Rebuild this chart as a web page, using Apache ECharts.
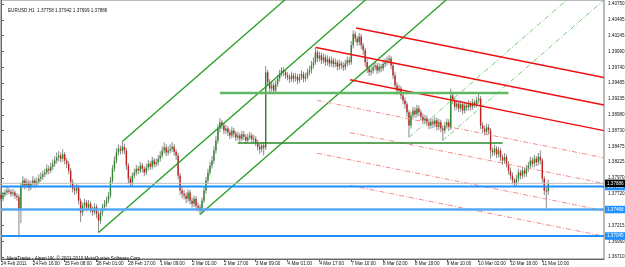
<!DOCTYPE html>
<html><head><meta charset="utf-8">
<script src="https://cdn.jsdelivr.net/npm/echarts@6/dist/echarts.min.js"></script>
<style>html,body{margin:0;padding:0;background:#fff}#c{width:625px;height:267px}</style>
</head><body><div id="c"></div>
<script>
const symbolName = 'EURUSD,H1';
const lastQuote = ['1.37758', '1.37942', '1.37699', '1.37886'];
const copyrightText = 'MetaTrader - Alpari UK, \u00a9 2001-2010 MetaQuotes Software Corp.';
const timeLabels = ['24 Feb 2011','24 Feb 16:00','25 Feb 08:00','28 Feb 01:00','28 Feb 17:00','1 Mar 09:00','2 Mar 01:00','2 Mar 17:00','3 Mar 09:00','4 Mar 01:00','4 Mar 17:00','7 Mar 10:00','8 Mar 02:00','8 Mar 18:00','9 Mar 10:00','10 Mar 02:00','10 Mar 18:00','11 Mar 10:00'];
const barsPerLabel = 16;
const slotCount = 304;
const priceTicks = [1.40750,1.40495,1.40245,1.39990,1.39740,1.39485,1.39235,1.38980,1.38730,1.38475,1.38225,1.37970,1.37720,1.37465,1.37215,1.36960,1.36710];
const priceMin = 1.36678, priceMax = 1.40814;

const opens = [
1.3770,1.3764,1.3771,1.3774,1.3777,1.3775,1.3772,1.3774,1.3769,1.3767,
1.3748,1.3785,1.3793,1.3785,1.3790,1.3782,1.3788,1.3793,1.3787,1.3791,
1.3796,1.3799,1.3803,1.3806,1.3812,1.3809,1.3815,1.3820,1.3825,1.3830,
1.3833,1.3828,1.3835,1.3825,1.3820,1.3809,1.3790,1.3780,1.3777,1.3782,
1.3761,1.3742,1.3753,1.3758,1.3750,1.3756,1.3747,1.3743,1.3751,1.3740,
1.3729,1.3742,1.3751,1.3756,1.3761,1.3769,1.3793,1.3812,1.3825,1.3838,
1.3844,1.3841,1.3847,1.3841,1.3817,1.3796,1.3788,1.3801,1.3806,1.3812,
1.3809,1.3817,1.3812,1.3806,1.3814,1.3820,1.3815,1.3825,1.3819,1.3822,
1.3828,1.3833,1.3841,1.3846,1.3838,1.3841,1.3844,1.3847,1.3839,1.3833,
1.3801,1.3777,1.3772,1.3769,1.3764,1.3774,1.3761,1.3756,1.3764,1.3753,
1.3750,1.3745,1.3761,1.3777,1.3793,1.3806,1.3817,1.3825,1.3841,1.3857,
1.3876,1.3886,1.3881,1.3873,1.3876,1.3870,1.3865,1.3873,1.3868,1.3862,
1.3865,1.3860,1.3867,1.3863,1.3857,1.3862,1.3865,1.3859,1.3860,1.3854,
1.3847,1.3843,1.3849,1.3846,1.3966,1.3950,1.3940,1.3945,1.3937,1.3947,
1.3956,1.3964,1.3969,1.3966,1.3961,1.3958,1.3955,1.3961,1.3956,1.3959,
1.3953,1.3958,1.3963,1.3956,1.3959,1.3966,1.3969,1.3977,1.3982,1.3998,
1.3988,1.3993,1.3985,1.3990,1.3982,1.3987,1.3980,1.3985,1.3979,1.3982,
1.3975,1.3980,1.3977,1.3974,1.3980,1.3985,1.3982,1.4009,1.4027,1.4020,
1.4014,1.4023,1.4009,1.4001,1.3982,1.3972,1.3966,1.3969,1.3974,1.3977,
1.3969,1.3975,1.3972,1.3979,1.3982,1.3985,1.3988,1.3977,1.3961,1.3945,
1.3937,1.3940,1.3929,1.3921,1.3915,1.3902,1.3881,1.3897,1.3905,1.3899,
1.3908,1.3902,1.3895,1.3889,1.3892,1.3886,1.3881,1.3887,1.3883,1.3889,
1.3879,1.3886,1.3876,1.3873,1.3881,1.3886,1.3878,1.3929,1.3921,1.3911,
1.3916,1.3908,1.3915,1.3905,1.3913,1.3910,1.3916,1.3911,1.3918,1.3915,
1.3921,1.3924,1.3881,1.3876,1.3871,1.3878,1.3873,1.3841,1.3838,1.3844,
1.3835,1.3841,1.3830,1.3825,1.3831,1.3820,1.3809,1.3801,1.3793,1.3788,
1.3796,1.3806,1.3801,1.3809,1.3804,1.3812,1.3817,1.3825,1.3820,1.3828,
1.3822,1.3831,1.3825,1.3796,1.3777,1.37758];
const highs = [
1.3776,1.3775,1.3779,1.3783,1.3781,1.3779,1.3780,1.3777,1.3773,1.3771,
1.3790,1.3800,1.3797,1.3796,1.3794,1.3793,1.3800,1.3797,1.3798,1.3803,
1.3806,1.3809,1.3812,1.3819,1.3817,1.3822,1.3827,1.3832,1.3838,1.3840,
1.3838,1.3843,1.3839,1.3829,1.3824,1.3813,1.3795,1.3786,1.3788,1.3786,
1.3765,1.3758,1.3764,1.3762,1.3762,1.3760,1.3752,1.3757,1.3755,1.3744,
1.3747,1.3756,1.3762,1.3767,1.3775,1.3799,1.3818,1.3832,1.3845,1.3851,
1.3849,1.3855,1.3852,1.3845,1.3821,1.3800,1.3806,1.3812,1.3818,1.3816,
1.3823,1.3821,1.3816,1.3820,1.3826,1.3824,1.3831,1.3829,1.3828,1.3834,
1.3840,1.3848,1.3854,1.3851,1.3848,1.3851,1.3855,1.3851,1.3843,1.3837,
1.3805,1.3782,1.3778,1.3774,1.3779,1.3778,1.3766,1.3769,1.3768,1.3758,
1.3755,1.3766,1.3783,1.3799,1.3812,1.3823,1.3832,1.3848,1.3864,1.3883,
1.3893,1.3890,1.3885,1.3882,1.3880,1.3875,1.3879,1.3877,1.3872,1.3871,
1.3869,1.3873,1.3872,1.3867,1.3868,1.3871,1.3869,1.3866,1.3864,1.3858,
1.3852,1.3855,1.3854,1.3976,1.3970,1.3955,1.3951,1.3950,1.3953,1.3962,
1.3970,1.3974,1.3974,1.3970,1.3966,1.3963,1.3967,1.3965,1.3965,1.3963,
1.3964,1.3969,1.3967,1.3965,1.3972,1.3976,1.3984,1.3990,1.4006,1.4002,
1.3999,1.3997,1.3996,1.3994,1.3993,1.3991,1.3991,1.3989,1.3988,1.3986,
1.3986,1.3984,1.3982,1.3986,1.3991,1.3990,1.4016,1.4033,1.4031,1.4024,
1.4029,1.4027,1.4013,1.4005,1.3987,1.3977,1.3975,1.3980,1.3983,1.3981,
1.3981,1.3979,1.3985,1.3988,1.3991,1.3994,1.3992,1.3981,1.3966,1.3950,
1.3946,1.3944,1.3934,1.3926,1.3919,1.3906,1.3903,1.3911,1.3910,1.3914,
1.3913,1.3906,1.3900,1.3898,1.3897,1.3891,1.3893,1.3892,1.3895,1.3893,
1.3892,1.3890,1.3881,1.3887,1.3892,1.3891,1.3940,1.3934,1.3926,1.3922,
1.3921,1.3921,1.3919,1.3919,1.3918,1.3922,1.3920,1.3924,1.3922,1.3927,
1.3933,1.3928,1.3886,1.3881,1.3884,1.3883,1.3877,1.3846,1.3850,1.3848,
1.3847,1.3845,1.3835,1.3837,1.3835,1.3824,1.3814,1.3806,1.3797,1.3802,
1.3812,1.3810,1.3815,1.3813,1.3818,1.3823,1.3831,1.3830,1.3834,1.3832,
1.3837,1.3841,1.3829,1.3800,1.3784,1.37942];
const lows = [
1.3759,1.3760,1.3767,1.3770,1.3771,1.3767,1.3768,1.3764,1.3761,1.3702,
1.3725,1.3781,1.3779,1.3781,1.3776,1.3778,1.3784,1.3781,1.3783,1.3787,
1.3791,1.3794,1.3798,1.3802,1.3803,1.3805,1.3810,1.3815,1.3820,1.3824,
1.3822,1.3823,1.3819,1.3813,1.3803,1.3784,1.3774,1.3770,1.3772,1.3755,
1.3727,1.3737,1.3748,1.3744,1.3746,1.3742,1.3737,1.3739,1.3733,1.3710,
1.3724,1.3737,1.3747,1.3751,1.3757,1.3765,1.3788,1.3807,1.3820,1.3833,
1.3835,1.3836,1.3835,1.3810,1.3789,1.3783,1.3784,1.3796,1.3801,1.3803,
1.3805,1.3806,1.3800,1.3802,1.3809,1.3810,1.3811,1.3814,1.3815,1.3817,
1.3823,1.3829,1.3836,1.3832,1.3833,1.3836,1.3839,1.3833,1.3826,1.3795,
1.3770,1.3765,1.3763,1.3757,1.3759,1.3755,1.3750,1.3751,1.3747,1.3744,
1.3739,1.3741,1.3757,1.3772,1.3788,1.3801,1.3812,1.3820,1.3836,1.3852,
1.3870,1.3875,1.3867,1.3868,1.3864,1.3859,1.3861,1.3862,1.3856,1.3857,
1.3854,1.3856,1.3858,1.3851,1.3853,1.3858,1.3854,1.3853,1.3848,1.3841,
1.3836,1.3838,1.3833,1.3842,1.3944,1.3934,1.3935,1.3931,1.3933,1.3943,
1.3951,1.3959,1.3960,1.3955,1.3953,1.3949,1.3951,1.3950,1.3951,1.3947,
1.3949,1.3954,1.3950,1.3951,1.3955,1.3961,1.3964,1.3972,1.3978,1.3982,
1.3983,1.3979,1.3980,1.3976,1.3977,1.3974,1.3975,1.3973,1.3974,1.3969,
1.3970,1.3971,1.3968,1.3969,1.3975,1.3977,1.3978,1.4004,1.4014,1.4008,
1.4009,1.4003,1.3994,1.3975,1.3965,1.3960,1.3961,1.3964,1.3969,1.3963,
1.3965,1.3966,1.3968,1.3974,1.3977,1.3980,1.3971,1.3955,1.3939,1.3930,
1.3932,1.3923,1.3915,1.3908,1.3895,1.3862,1.3876,1.3892,1.3893,1.3894,
1.3896,1.3889,1.3883,1.3884,1.3880,1.3875,1.3876,1.3877,1.3878,1.3873,
1.3874,1.3870,1.3857,1.3868,1.3876,1.3872,1.3874,1.3915,1.3905,1.3906,
1.3902,1.3903,1.3899,1.3900,1.3904,1.3905,1.3905,1.3906,1.3909,1.3910,
1.3916,1.3875,1.3869,1.3865,1.3866,1.3867,1.3828,1.3832,1.3833,1.3829,
1.3830,1.3824,1.3818,1.3820,1.3814,1.3803,1.3795,1.3787,1.3783,1.3783,
1.3791,1.3795,1.3796,1.3798,1.3799,1.3807,1.3812,1.3814,1.3815,1.3816,
1.3817,1.3819,1.3790,1.3770,1.3747,1.37699];
const closes = [
1.3764,1.3771,1.3774,1.3777,1.3775,1.3772,1.3774,1.3769,1.3767,1.3748,
1.3785,1.3793,1.3785,1.3790,1.3782,1.3788,1.3793,1.3787,1.3791,1.3796,
1.3799,1.3803,1.3806,1.3812,1.3809,1.3815,1.3820,1.3825,1.3830,1.3833,
1.3828,1.3835,1.3825,1.3820,1.3809,1.3790,1.3780,1.3777,1.3782,1.3761,
1.3742,1.3753,1.3758,1.3750,1.3756,1.3747,1.3743,1.3751,1.3740,1.3729,
1.3742,1.3751,1.3756,1.3761,1.3769,1.3793,1.3812,1.3825,1.3838,1.3844,
1.3841,1.3847,1.3841,1.3817,1.3796,1.3788,1.3801,1.3806,1.3812,1.3809,
1.3817,1.3812,1.3806,1.3814,1.3820,1.3815,1.3825,1.3819,1.3822,1.3828,
1.3833,1.3841,1.3846,1.3838,1.3841,1.3844,1.3847,1.3839,1.3833,1.3801,
1.3777,1.3772,1.3769,1.3764,1.3774,1.3761,1.3756,1.3764,1.3753,1.3750,
1.3745,1.3761,1.3777,1.3793,1.3806,1.3817,1.3825,1.3841,1.3857,1.3876,
1.3886,1.3881,1.3873,1.3876,1.3870,1.3865,1.3873,1.3868,1.3862,1.3865,
1.3860,1.3867,1.3863,1.3857,1.3862,1.3865,1.3859,1.3860,1.3854,1.3847,
1.3843,1.3849,1.3846,1.3966,1.3950,1.3940,1.3945,1.3937,1.3947,1.3956,
1.3964,1.3969,1.3966,1.3961,1.3958,1.3955,1.3961,1.3956,1.3959,1.3953,
1.3958,1.3963,1.3956,1.3959,1.3966,1.3969,1.3977,1.3982,1.3998,1.3988,
1.3993,1.3985,1.3990,1.3982,1.3987,1.3980,1.3985,1.3979,1.3982,1.3975,
1.3980,1.3977,1.3974,1.3980,1.3985,1.3982,1.4009,1.4027,1.4020,1.4014,
1.4023,1.4009,1.4001,1.3982,1.3972,1.3966,1.3969,1.3974,1.3977,1.3969,
1.3975,1.3972,1.3979,1.3982,1.3985,1.3988,1.3977,1.3961,1.3945,1.3937,
1.3940,1.3929,1.3921,1.3915,1.3902,1.3881,1.3897,1.3905,1.3899,1.3908,
1.3902,1.3895,1.3889,1.3892,1.3886,1.3881,1.3887,1.3883,1.3889,1.3879,
1.3886,1.3876,1.3873,1.3881,1.3886,1.3878,1.3929,1.3921,1.3911,1.3916,
1.3908,1.3915,1.3905,1.3913,1.3910,1.3916,1.3911,1.3918,1.3915,1.3921,
1.3924,1.3881,1.3876,1.3871,1.3878,1.3873,1.3841,1.3838,1.3844,1.3835,
1.3841,1.3830,1.3825,1.3831,1.3820,1.3809,1.3801,1.3793,1.3788,1.3796,
1.3806,1.3801,1.3809,1.3804,1.3812,1.3817,1.3825,1.3820,1.3828,1.3822,
1.3831,1.3825,1.3796,1.3777,1.37758,1.37886];

// Andrews' pitchfork anchors (bar index, price)
const pitchforkAnchors = [[49, 1.3710], [61, 1.38555], [100, 1.3739]];
// dashed rays parallel to the pitchfork
const pitchforkDashAnchors = [[205, 1.3862], [222, 1.3857]];
// red channel: [startBar, startPrice, endBar, endPrice]
const redSolid = [[178.4, 1.40367, 303, 1.39575], [158.3, 1.40055, 303, 1.39136], [175.4, 1.39540, 303, 1.38728]];
const redDashed = [[158.8, 1.39211, 303, 1.38294], [175.4, 1.38696, 303, 1.37885], [158.8, 1.38367, 303, 1.37451], [175.4, 1.37853, 303, 1.37042]];
// horizontal green segments: [fromBar, toBar, price]
const greenLevelUpper = [110, 255, 1.3933];
const greenLevelLower = [119, 252, 1.3853];
const blueLevels = [1.37835, 1.37468, 1.37045];
const bidPrice = 1.37886;

const FONT = 'Liberation Sans';
const FS = 4.6;
const lastBar = slotCount - 1;

const candleData = opens.map((o, i) => [i, o, closes[i], lows[i], highs[i]]);
const cats = [];
for (let i = 0; i < slotCount; i++) cats.push(String(i));
const showTick = (idx) => idx % barsPerLabel === 0 && idx / barsPerLabel < timeLabels.length;

function rayLine(p, slope) { return [p, [lastBar, p[1] + slope * (lastBar - p[0])]]; }
const mid = [(pitchforkAnchors[1][0] + pitchforkAnchors[2][0]) / 2, (pitchforkAnchors[1][1] + pitchforkAnchors[2][1]) / 2];
const pfSlope = (mid[1] - pitchforkAnchors[0][1]) / (mid[0] - pitchforkAnchors[0][0]);

const series = [];
series.push({
  type: 'custom', xAxisIndex: 1, yAxisIndex: 0, z: 2, silent: true, animation: false,
  data: candleData, encode: { x: 0, y: [1, 2, 3, 4] },
  renderItem: (params, api) => {
    const i = api.value(0), o = api.value(1), c = api.value(2), l = api.value(3), h = api.value(4);
    const pO = api.coord([i, o]), pC = api.coord([i, c]), pL = api.coord([i, l]), pH = api.coord([i, h]);
    const x = pO[0];
    const top = Math.min(pO[1], pC[1]);
    const ht = Math.max(0.8, Math.abs(pO[1] - pC[1]));
    return { type: 'group', children: [
      { type: 'line', shape: { x1: x, y1: pH[1], x2: x, y2: pL[1] }, style: { stroke: '#8a8a8a', lineWidth: 1 } },
      { type: 'rect', shape: { x: x - 0.7, y: top, width: 1.4, height: ht }, style: { fill: c >= o ? '#2a8a2a' : '#c41f1f' } }
    ] };
  }
});
function addLine(pts, color, width, type, z, endLabel) {
  const s = { type: 'line', xAxisIndex: 1, yAxisIndex: 0, data: pts, showSymbol: false, symbol: 'none', silent: true,
    animation: false, z: z || 4, lineStyle: { color: color, width: width, type: type || 'solid' } };
  if (endLabel) s.endLabel = endLabel;
  series.push(s);
}
pitchforkAnchors.forEach(p => addLine(rayLine(p, pfSlope), '#229e22', 1.3));
pitchforkDashAnchors.forEach(p => addLine(rayLine(p, pfSlope), '#79c879', 1, [5, 2, 1, 2]));
redSolid.forEach(r => addLine([[r[0], r[1]], [r[2], r[3]]], '#f01010', 1.5));
redDashed.forEach(r => addLine([[r[0], r[1]], [r[2], r[3]]], '#f58a8a', 1, [5, 2, 1, 2]));
addLine([[greenLevelUpper[0], greenLevelUpper[2]], [greenLevelUpper[1], greenLevelUpper[2]]], '#62b862', 2.5);
addLine([[greenLevelLower[0], greenLevelLower[2]], [greenLevelLower[1], greenLevelLower[2]]], '#2a8a2a', 1.5);

function priceLabel(bg) {
  return { show: true, distance: 1, fontSize: FS, fontFamily: FONT, color: '#fff', backgroundColor: bg,
    padding: [1.5, 4, 1, 2], formatter: p => Number(p.value[1]).toFixed(5) };
}
addLine([[0, blueLevels[2]], [lastBar, blueLevels[2]]], '#1e90ff', 2, 'solid', 5, priceLabel('#1e90ff'));
addLine([[0, blueLevels[1]], [lastBar, blueLevels[1]]], '#55a8f5', 2.5, 'solid', 5, priceLabel('#1e90ff'));
addLine([[0, blueLevels[0]], [lastBar, blueLevels[0]]], '#1e90ff', 2, 'solid', 5, priceLabel('#1e90ff'));
addLine([[0, bidPrice], [lastBar, bidPrice]], '#c0c0c0', 1, 'solid', 6, priceLabel('#000000'));

const chart = echarts.init(document.getElementById('c'), null, { renderer: 'canvas' });
chart.setOption({
  animation: false,
  backgroundColor: '#ffffff',
  title: [
    { text: symbolName + '  ' + lastQuote.join(' '), left: 3, top: 3, textStyle: { fontSize: FS, fontWeight: 'normal', color: '#111', fontFamily: FONT } },
    { text: copyrightText, left: 2, top: 251.5, textStyle: { fontSize: FS, fontWeight: 'normal', color: '#111', fontFamily: FONT } }
  ],
  grid: { left: 1, right: 21, top: 0, bottom: 8, show: true, borderColor: '#777', borderWidth: 1, backgroundColor: 'transparent', outerBoundsMode: 'none' },
  xAxis: [
    { type: 'category', data: cats, boundaryGap: false, position: 'bottom',
      axisLine: { show: true, lineStyle: { color: '#666', width: 1 } },
      axisTick: { show: true, length: 3, interval: showTick, lineStyle: { color: '#666' } },
      axisLabel: { interval: showTick, align: 'left', margin: 2, fontSize: FS, fontFamily: FONT, color: '#111',
        formatter: (v) => timeLabels[Number(v) / barsPerLabel] || '' },
      splitLine: { show: false } },
    { type: 'value', min: 0, max: lastBar, show: false, splitLine: { show: false } }
  ],
  yAxis: [{ type: 'value', position: 'right', min: priceMin, max: priceMax, scale: true,
    axisLine: { show: true, lineStyle: { color: '#666', width: 1 } },
    axisTick: { show: true, length: 3, customValues: priceTicks, lineStyle: { color: '#666' } },
    axisLabel: { show: true, customValues: priceTicks, margin: 4, fontSize: FS, fontFamily: FONT, color: '#111', formatter: v => Number(v).toFixed(5) },
    splitLine: { show: false } }],
  series: series
});
</script></body></html>
